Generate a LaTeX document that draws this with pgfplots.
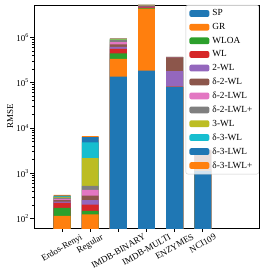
\documentclass[border=0pt]{standalone}
\usepackage{fontspec}
\setmainfont{Liberation Serif}
\usepackage{pgfplots}
\pgfplotsset{compat=1.18}
\usepackage{pgfplotstable}
\definecolor{tblue}{HTML}{1F77B4}
\definecolor{torange}{HTML}{FF7F0E}
\definecolor{tgreen}{HTML}{2CA02C}
\definecolor{tred}{HTML}{D62728}
\definecolor{tpurple}{HTML}{9467BD}
\definecolor{tbrown}{HTML}{8C564B}
\definecolor{tpink}{HTML}{E377C2}
\definecolor{tgray}{HTML}{7F7F7F}
\definecolor{tolive}{HTML}{BCBD22}
\definecolor{tcyan}{HTML}{17BECF}
% cumulative heights of the stacked segments (top of each segment)
\pgfplotstableread{
x SP GR WLOA WL TWL dTWL dTLWL dTLWLp THWL dTHWL dTHLWL dTHLWLp
0 50 115 172 222 237 255 274 290 300 311 321 333
1 50 124 147 204 257 320 430 530 2150 4800 6250 6600
2 136000 334000 447000 560000 622000 703000 790000 875000 900000 920000 935000 955000
3 184000 4300000 4450000 4600000 4800000 4900000 5000000 5100000 5150000 5200000 5250000 5300000
4 80000 80500 81000 81500 181000 363000 365000 367000 368000 369000 370000 371000
5 1140 1180 1200 1220 1300 3200 3220 3240 3250 3260 3270 3280
}\cum
\begin{document}
\begin{tikzpicture}
\useasboundingbox (0,0) rectangle (264pt,277pt);
\begin{axis}[
  at={(34pt,48.7pt)}, anchor=south west,
  scale only axis, width=225pt, height=223.3pt,
  ymode=log, ymin=61, ymax=5.2e6,
  xmin=-1, xmax=7,
  xtick={0,1,2,3,4,5},
  xticklabels={\rotatebox{30}{Erdos-Renyi},\rotatebox{30}{Regular},\rotatebox{30}{IMDB-BINARY},\rotatebox{30}{IMDB-MULTI},\rotatebox{30}{ENZYMES},\rotatebox{30}{NCI109}},
  xticklabel style={anchor=north, inner sep=1pt, yshift=-0.5pt},
  ytick={1e2,1e3,1e4,1e5,1e6},
  yticklabels={10\textsuperscript{2},10\textsuperscript{3},10\textsuperscript{4},10\textsuperscript{5},10\textsuperscript{6}},
  yticklabel style={inner sep=1.5pt},
  tick align=outside, tick pos=left,
  major tick length=3.5pt, minor tick length=2pt,
  axis line style={line width=0.8pt},
  every tick/.style={black, line width=0.6pt},
  ylabel={RMSE},
  ylabel style={yshift=-2pt},
  font=\fontsize{9}{11}\selectfont,
  reverse legend,
  legend style={at={(1,1)}, anchor=north east, draw=black!20, rounded corners=2pt,
    fill=white, fill opacity=0.8, draw opacity=1, text opacity=1,
    font=\fontsize{9.3}{11}\selectfont, row sep=0pt, inner xsep=3.5pt, inner ysep=1.5pt,
    nodes={inner sep=3pt}, cells={anchor=west}},
  legend image code/.code={\fill[#1, fill opacity=1, draw=none] (0pt,-3.4pt) rectangle (20pt,3.4pt);},
  seg/.style={ybar, bar width=0.6, bar shift=0pt, draw=none, fill=#1},
]
\addplot[seg=torange] table[x=x,y=dTHLWLp]{\cum}; \addlegendentry{δ-3-LWL+}
\addplot[seg=tblue] table[x=x,y=dTHLWL]{\cum}; \addlegendentry{δ-3-LWL}
\addplot[seg=tcyan] table[x=x,y=dTHWL]{\cum}; \addlegendentry{δ-3-WL}
\addplot[seg=tolive] table[x=x,y=THWL]{\cum}; \addlegendentry{3-WL}
\addplot[seg=tgray] table[x=x,y=dTLWLp]{\cum}; \addlegendentry{δ-2-LWL+}
\addplot[seg=tpink] table[x=x,y=dTLWL]{\cum}; \addlegendentry{δ-2-LWL}
\addplot[seg=tbrown] table[x=x,y=dTWL]{\cum}; \addlegendentry{δ-2-WL}
\addplot[seg=tpurple] table[x=x,y=TWL]{\cum}; \addlegendentry{2-WL}
\addplot[seg=tred] table[x=x,y=WL]{\cum}; \addlegendentry{WL}
\addplot[seg=tgreen] table[x=x,y=WLOA]{\cum}; \addlegendentry{WLOA}
\addplot[seg=torange] table[x=x,y=GR]{\cum}; \addlegendentry{GR}
\addplot[seg=tblue] table[x=x,y=SP]{\cum}; \addlegendentry{SP}
\end{axis}
\end{tikzpicture}
\end{document}
